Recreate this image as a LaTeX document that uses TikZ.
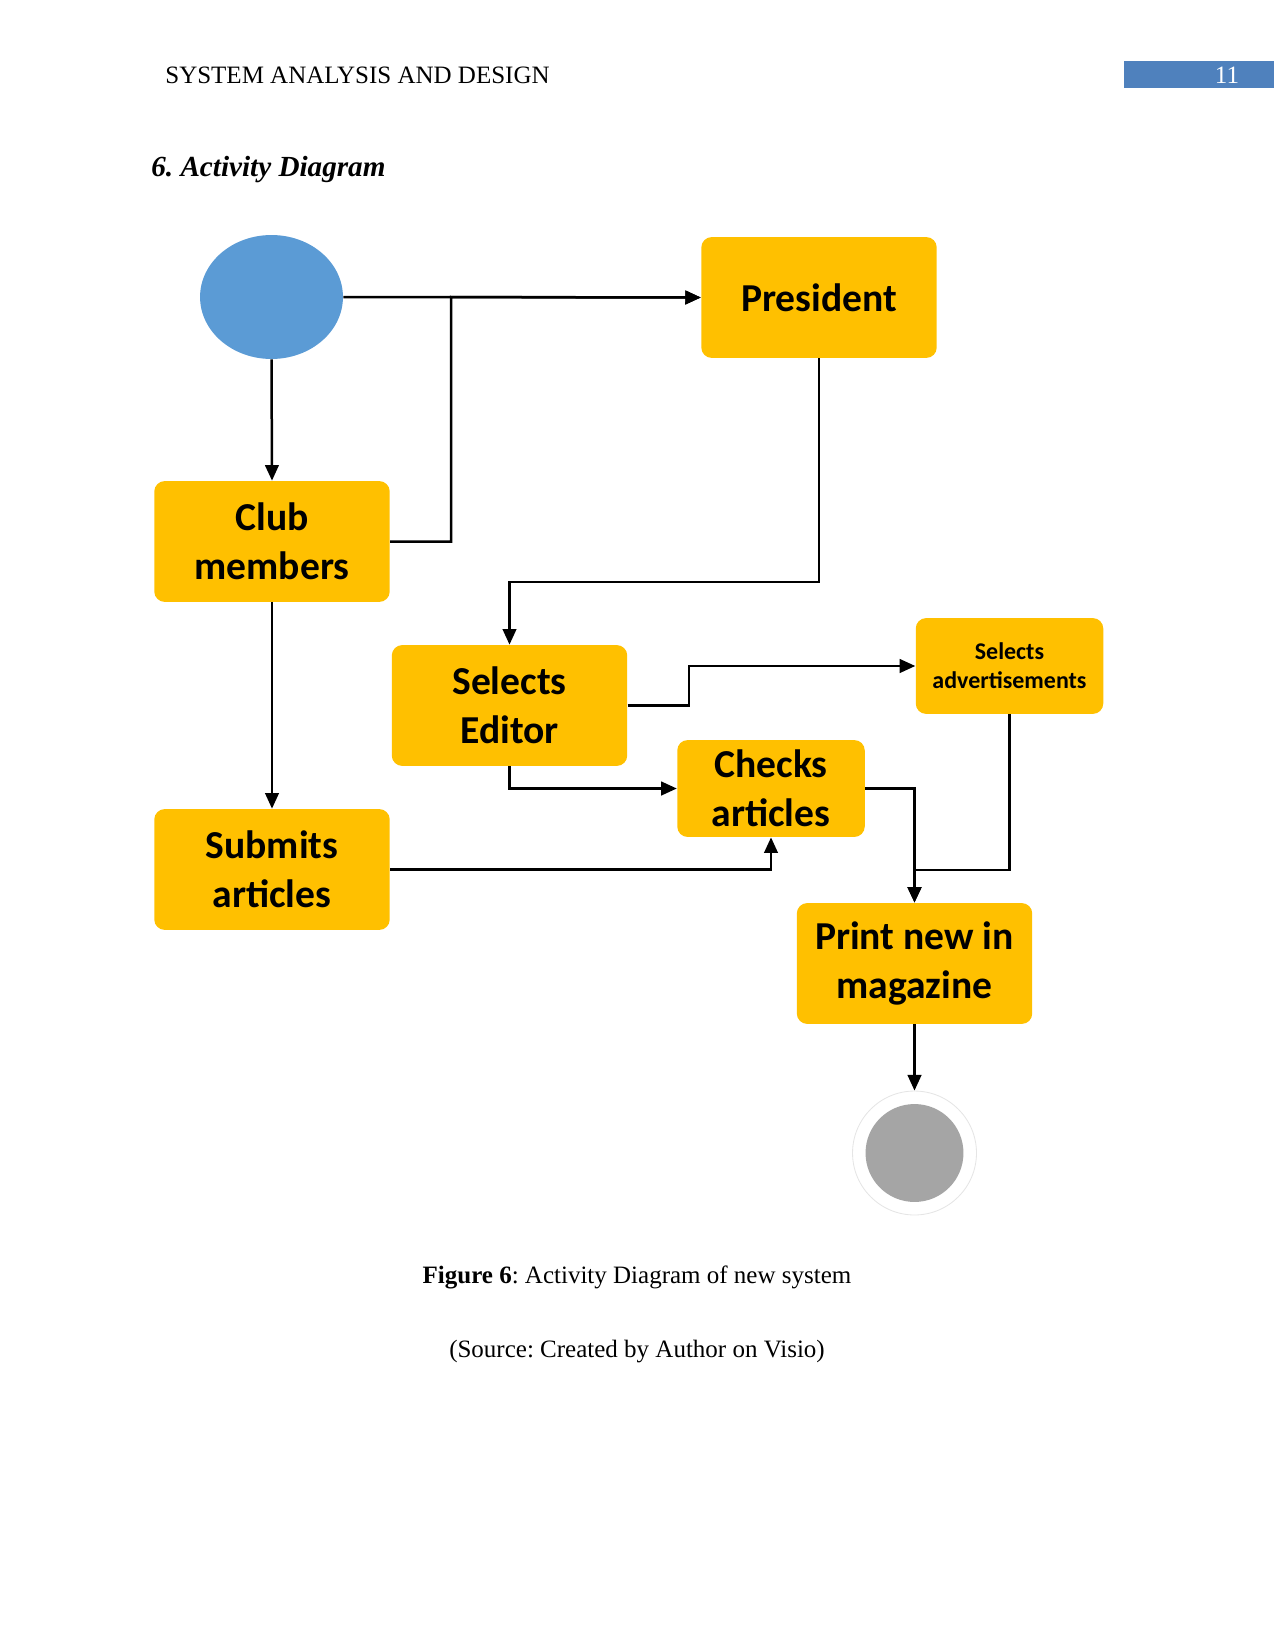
\documentclass[tikz,border=0pt]{standalone}
\usepackage{fontspec}
\setmainfont{Liberation Serif}
\newfontfamily\boxfont{Carlito}
\usepackage{tikz}
\usetikzlibrary{arrows.meta,positioning,shapes.geometric}
\definecolor{boxgold}{HTML}{FFC000}
\definecolor{startblue}{HTML}{5B9BD5}
\definecolor{endgray}{HTML}{A5A5A5}
\definecolor{headblue}{HTML}{4F81BD}
\frenchspacing

\begin{document}
\begin{tikzpicture}[x=0.48pt, y=-0.48pt,
    act/.style={fill=boxgold, rounded corners=5pt, minimum width=113pt, minimum height=58pt,
                align=center, inner sep=2pt, font=\boxfont\bfseries\fontsize{19}{23.3}\selectfont},
    smallact/.style={act, minimum width=90pt, minimum height=46pt,
                font=\boxfont\bfseries\fontsize{11.5}{14}\selectfont},
    flow/.style={line width=1.2pt, -{Triangle[length=7.5pt,width=6.5pt]}},
    ]
    \useasboundingbox (0,0) rectangle (1275,1651);

    % Header
    \node[anchor=west, font=\fontsize{12}{14}\selectfont] (head) at (158,75) {SYSTEM ANALYSIS AND DESIGN};
    \node[fill=headblue, minimum width=72pt, minimum height=13pt, inner sep=0pt] (pagebox) at (1199,74.5) {};
    \node[text=white, font=\fontsize{12}{14}\selectfont] (pagenum) at (1227,75) {11};
    \node[anchor=west, font=\bfseries\itshape\fontsize{14}{16}\selectfont] (title) at (144,170) {6. Activity Diagram};

    % Nodes
    \node[ellipse, fill=startblue, minimum width=68.6pt, minimum height=59.5pt] (start) at (271.5,297) {};
    \node[act] (pres) at (819,297.5) {President};
    \node[act] (club) at (272,541.5) {Club\\members};
    \node[act] (submit) at (272,869.5) {Submits\\articles};
    \node[act] (editor) at (509.5,705.5) {Selects\\Editor};
    \node[smallact] (adv) at (1009.5,666) {Selects\\advertisements};
    \node[act, minimum width=90pt, minimum height=46.5pt] (checks) at (771,788.5) {Checks\\articles};
    \node[act] (print) at (914.5,963.5) {Print new in\\magazine};
    \node[circle, draw=gray!20, fill=white, minimum size=59.5pt] (endring) at (914.5,1153) {};
    \node[circle, fill=endgray, minimum size=47pt] (endstate) at (914.5,1153) {};

    % Bends
    \coordinate (j1) at (451,297);
    \coordinate (b1) at (819,582);
    \coordinate (b2) at (689,705.5);
    \coordinate (b3) at (914.5,870);

    % Flows
    \draw[flow] (start.east) -- (pres.west);
    \draw[flow] (club.east) -| (j1) -- (pres.west);
    \draw[flow] (start.south) -- (club.north);
    \draw[flow] (club.south) -- (submit.north);
    \draw[flow] (pres.south) -- (b1) -| (editor.north);
    \draw[flow] (editor.east) -- (b2) |- (adv.west);
    \draw[flow] (editor.south) |- (checks.west);
    \draw[flow] (submit.east) -| (checks.south);
    \draw[flow, line width=1.6pt] (checks.east) -| (print.north);
    \draw[flow] (adv.south) |- (b3) -- (print.north);
    \draw[flow] (print.south) -- (endring.north);

    % Caption
    \node[font=\fontsize{12}{14}\selectfont] (cap) at (637,1277) {\textbf{Figure 6}: Activity Diagram of new system};
    \node[font=\fontsize{12}{14}\selectfont] (src) at (637,1352) {(Source: Created by Author on Visio)};
\end{tikzpicture}
\end{document}
